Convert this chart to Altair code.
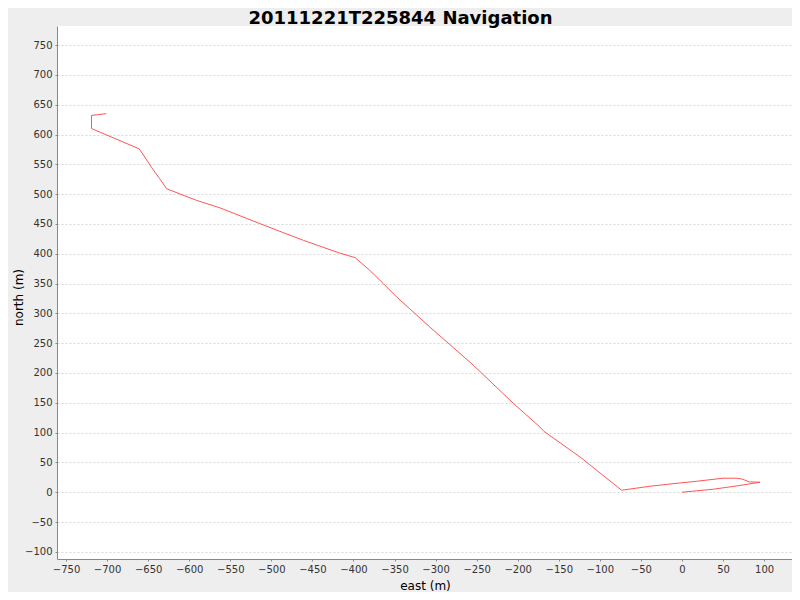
import altair as alt
import pandas as pd

east = [-701, -713, -719, -719, -661, -654, -646, -636, -627.5,
        -591, -562.6, -513.9, -461, -416.5, -398,
        -380, -363.7, -347.4, -306.9, -254, -205, -173, -168, -124, -73.5,
        -39, -6, 18, 50, 67, 74, 82, 95,
        67, 38, 0]
north = [635, 633, 632, 610, 576, 562, 545, 526, 509,
         489.5, 477, 450.5, 422.5, 401, 393.5,
         372, 350, 327.5, 277, 213, 148.7, 109.5, 102, 59, 3.4,
         10, 15, 18.4, 23.5, 23.5, 21.8, 17.3, 16.8,
         10.6, 5, 0]
x_ticks = list(range(-750, 101, 50))
y_ticks = list(range(-100, 751, 50))

df = pd.DataFrame({"east": east, "north": north, "i": list(range(len(east)))})

FONT = "DejaVu Sans"

chart = alt.Chart(df).mark_line(color="#FF5555", strokeWidth=1, clip=True).encode(
    x=alt.X("east:Q",
            scale=alt.Scale(domain=[-761, 134], nice=False, zero=False),
            axis=alt.Axis(values=x_ticks, title="east (m)", grid=False,
                          titleX=368, titleY=26, titleBaseline="middle",
                          titleAlign="center")),
    y=alt.Y("north:Q",
            scale=alt.Scale(domain=[-112, 782], nice=False, zero=False),
            axis=alt.Axis(values=y_ticks, title="north (m)", grid=True,
                          titleX=-39, titleY=271, titleAngle=-90,
                          titleBaseline="middle", titleAlign="center")),
    order="i:Q",
).properties(
    width=735, height=533,
    title=alt.TitleParams("20111221T225844 Navigation", font=FONT, fontSize=18,
                          fontWeight="bold", color="#000000", anchor="middle",
                          frame="group", dx=-24, offset=-2),
    autosize=alt.AutoSizeParams(type="none"),
    padding={"left": 49, "top": 18, "right": 0, "bottom": 33},
    background="#EEEEEE",
).configure_view(
    fill="#FFFFFF", stroke=None
).configure_axis(
    labelFont=FONT, labelFontSize=10, labelColor="#333333",
    titleFont=FONT, titleFontSize=12, titleColor="#000000", titleFontWeight="normal",
    domainColor="#888888", domainWidth=1,
    tickColor="#888888", tickSize=2, labelPadding=3,
    gridColor="#D8D8D8", gridDash=[2, 2], gridWidth=1,
    labelFlush=False, labelOverlap=False,
)

chart.save("out.html", embed_options={"renderer": "svg", "actions": False})
